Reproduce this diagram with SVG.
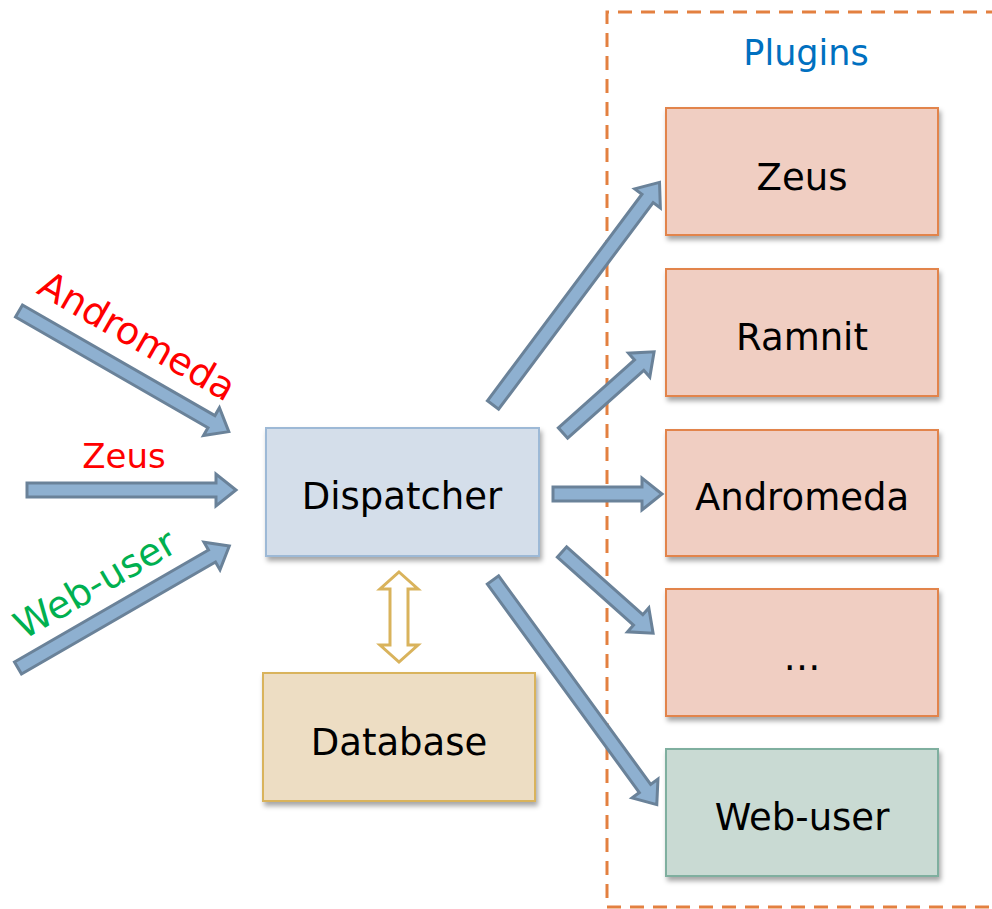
<svg xmlns="http://www.w3.org/2000/svg" width="992" height="909" viewBox="0 0 992 909">
<style>
text{font-family:"DejaVu Sans","Liberation Sans",sans-serif;}
.box{stroke-width:2;filter:url(#sh);}
.plug{fill:#F0CEC2;stroke:#E2844C;}
.lbl{font-size:37px;fill:#000;text-anchor:middle;}
.arr{fill:#8EB0D0;stroke:#6A8299;stroke-width:3;stroke-linejoin:miter;}
</style>
<defs>
<filter id="sh" x="-10%" y="-10%" width="130%" height="140%">
<feDropShadow dx="2" dy="4" stdDeviation="2.5" flood-color="#000" flood-opacity="0.35"/>
</filter>
</defs>
<rect width="992" height="909" fill="#fff"/>
<g id="plugins-container">
<path d="M1000 12 H607 V907 H1000" fill="none" stroke="#E38040" stroke-width="3" stroke-dasharray="14 9"/>
<text x="806" y="65" font-size="35" fill="#0070C0" text-anchor="middle">Plugins</text>
</g>
<g id="connectors">
<polygon class="arr" transform="translate(19,311) rotate(29.9)" points="0,-7 222,-7 222,-16 242,0 222,16 222,7 0,7"/>
<polygon class="arr" transform="translate(27,490)" points="0,-7 189,-7 189,-16 209,0 189,16 189,7 0,7"/>
<polygon class="arr" transform="translate(18,668) rotate(-30)" points="0,-7 224,-7 224,-16 244,0 224,16 224,7 0,7"/>
<polygon class="arr" transform="translate(493,405) rotate(-53.2)" points="0,-7 258,-7 258,-16 278,0 258,16 258,7 0,7"/>
<polygon class="arr" transform="translate(563,433) rotate(-41.7)" points="0,-7 102,-7 102,-16 122,0 102,16 102,7 0,7"/>
<polygon class="arr" transform="translate(553,494)" points="0,-7 89,-7 89,-16 109,0 89,16 89,7 0,7"/>
<polygon class="arr" transform="translate(562,552) rotate(41.7)" points="0,-7 102,-7 102,-16 122,0 102,16 102,7 0,7"/>
<polygon class="arr" transform="translate(493,580) rotate(53.9)" points="0,-7 258,-7 258,-16 278,0 258,16 258,7 0,7"/>
<polygon points="399,572 418,589 408,589 408,645 418,645 399,662 380,645 390,645 390,589 380,589" fill="#fff" stroke="#D9B35C" stroke-width="3"/>
<text transform="translate(137,336) rotate(29.9)" y="13" font-size="38" fill="#FF0000" text-anchor="middle">Andromeda</text>
<text x="124" y="468" font-size="34" fill="#FF0000" text-anchor="middle">Zeus</text>
<text transform="translate(95,584) rotate(-30)" y="13" font-size="38" fill="#00B050" text-anchor="middle">Web-user</text>
</g>
<g id="dispatcher">
<rect class="box" x="266" y="428" width="273" height="128" fill="#D4DEEA" stroke="#9DB9D6"/>
<text class="lbl" x="402" y="509">Dispatcher</text>
</g>
<g id="database">
<rect class="box" x="263" y="673" width="272" height="128" fill="#EDDDC3" stroke="#D9B35C"/>
<text class="lbl" x="399" y="755">Database</text>
</g>
<g id="plugin-zeus">
<rect class="box plug" x="666" y="108" width="272" height="127"/>
<text class="lbl" x="802" y="190">Zeus</text>
</g>
<g id="plugin-ramnit">
<rect class="box plug" x="666" y="269" width="272" height="127"/>
<text class="lbl" x="802" y="350">Ramnit</text>
</g>
<g id="plugin-andromeda">
<rect class="box plug" x="666" y="430" width="272" height="126"/>
<text class="lbl" x="802" y="510">Andromeda</text>
</g>
<g id="plugin-more">
<rect class="box plug" x="666" y="589" width="272" height="127"/>
<text class="lbl" x="802" y="670">…</text>
</g>
<g id="plugin-webuser">
<rect class="box" x="666" y="749" width="272" height="127" fill="#C9DAD3" stroke="#7FAF9F"/>
<text class="lbl" x="802" y="830">Web-user</text>
</g>
</svg>
